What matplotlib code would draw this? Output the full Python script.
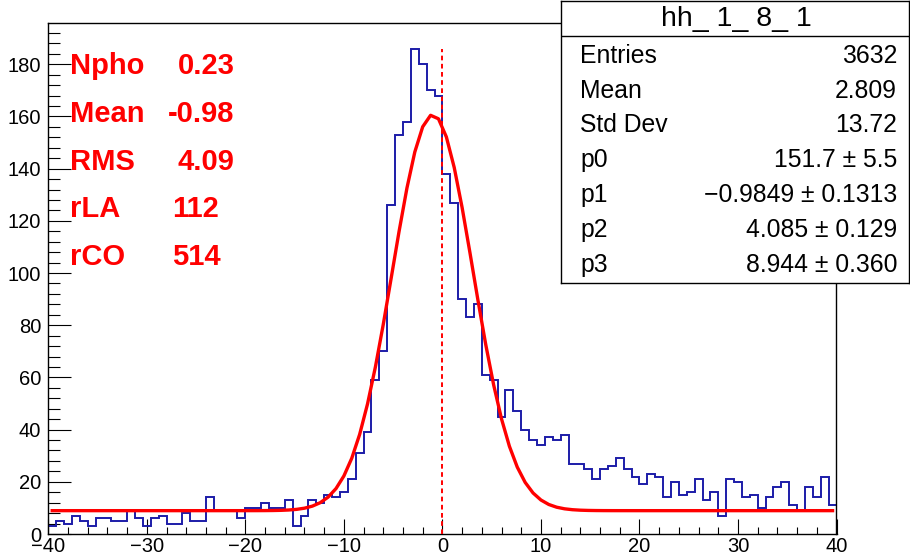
import numpy as np
import matplotlib
matplotlib.use("Agg")
import matplotlib.pyplot as plt
from matplotlib.ticker import MultipleLocator

plt.rcParams["font.family"] = ["Liberation Sans", "DejaVu Sans"]

# Histogram contents: 100 bins over [-40, 40]
counts = [3, 5, 4, 7, 5, 3, 6, 6, 5, 5,
          9, 6, 3, 6, 7, 4, 4, 8, 5, 5,
          14, 9, 9, 9, 6, 10, 10, 12, 10, 10,
          13, 3, 7, 13, 12, 15, 14, 16, 21, 31,
          39, 59, 70, 126, 153, 158, 186, 180, 170, 168,
          138, 127, 90, 83, 88, 61, 59, 45, 55, 47,
          40, 36, 34, 37, 36, 38, 27, 27, 25, 21,
          25, 26, 29, 25, 22, 19, 23, 22, 14, 20,
          15, 16, 21, 13, 16, 7, 21, 20, 14, 15,
          10, 14, 18, 20, 11, 9, 18, 14, 22, 11]
x_lo, x_hi = -40.0, 40.0

# Gaussian + constant fit parameters
p0, p1, p2, p3 = 151.7, -0.9849, 4.085, 8.944
fit_lo, fit_hi = -39.6, 39.6

stats_title = "hh_ 1_ 8_ 1"
stats_labels = ["Entries", "Mean", "Std Dev", "p0", "p1", "p2", "p3"]
stats_values = ["3632", "2.809", "13.72", "151.7 \u00b1 5.5",
                "\u22120.9849 \u00b1 0.1313", "4.085 \u00b1 0.129",
                "8.944 \u00b1 0.360"]

info_labels = ["Npho", "Mean", "RMS", "rLA", "rCO"]
info_values = ["0.23", "-0.98", "4.09", "112", "514"]

W, H = 910, 558
fig = plt.figure(figsize=(W / 100, H / 100), dpi=100)

def fx(px):
    return px / W

def fy(py):
    return 1 - py / H

ax = fig.add_axes([fx(48.3), fy(534), fx(836.5) - fx(48.3), fy(23) - fy(534)])

edges = np.linspace(x_lo, x_hi, len(counts) + 1)
ax.stairs(counts, edges, color="#1c1ca8", linewidth=1.4, zorder=2)

xf = np.linspace(fit_lo, fit_hi, 100)
yf = p0 * np.exp(-0.5 * ((xf - p1) / p2) ** 2) + p3
ax.plot(xf, yf, color="#ff0000", linewidth=2.4, zorder=3)

ax.plot([0, 0], [0, max(counts)], color="#ff0000", linewidth=1.4,
        dashes=(2.4, 1.8), zorder=4)

ax.set_xlim(x_lo, x_hi)
ax.set_ylim(0, 195.8)
ax.xaxis.set_major_locator(MultipleLocator(10))
ax.xaxis.set_minor_locator(MultipleLocator(2))
ax.yaxis.set_major_locator(MultipleLocator(20))
ax.yaxis.set_minor_locator(MultipleLocator(4))
ax.tick_params(which="both", direction="in", top=False, right=False,
               width=0.8, color="black", labelsize=14.5)
ax.tick_params(axis="y", which="major", length=16.5, pad=5)
ax.tick_params(axis="y", which="minor", length=8.5)
ax.tick_params(axis="x", which="major", length=10.8, pad=2.5)
ax.tick_params(axis="x", which="minor", length=5.4)
for sp in ax.spines.values():
    sp.set_linewidth(1.0)

# Summary labels on the left
label_x, row_y0, row_dy = 70, 66, 47.8
value_x = [178, 168, 177, 172, 172]
for i, (lab, val) in enumerate(zip(info_labels, info_values)):
    y = row_y0 + i * row_dy
    fig.text(fx(label_x), fy(y), lab, color="#ff0000", fontsize=21,
             fontweight="bold", ha="left", va="center")
    fig.text(fx(value_x[i]), fy(y), val, color="#ff0000", fontsize=21,
             fontweight="bold", ha="left", va="center")

# Statistics box
bx0, bx1, by1 = 561, 908.5, 283
sax = fig.add_axes([fx(bx0), fy(by1), fx(bx1) - fx(bx0), fy(0.5) - fy(by1)])
sax.set_xlim(bx0, bx1)
sax.set_ylim(by1, 0.5)
sax.set_facecolor("white")
sax.set_xticks([])
sax.set_yticks([])
for sp in sax.spines.values():
    sp.set_linewidth(1.0)
sax.plot([bx0, bx1], [36, 36], color="black", linewidth=1.0)
sax.text((bx0 + bx1) / 2 + 2, 19, stats_title, fontsize=20.5, ha="center", va="center")
for i, (lab, val) in enumerate(zip(stats_labels, stats_values)):
    y = 55.7 + i * 34.9
    sax.text(580, y, lab, fontsize=17.8, ha="left", va="center")
    sax.text(897, y, val, fontsize=17.8, ha="right", va="center")

fig.savefig("out.png", dpi=100, facecolor="white")
